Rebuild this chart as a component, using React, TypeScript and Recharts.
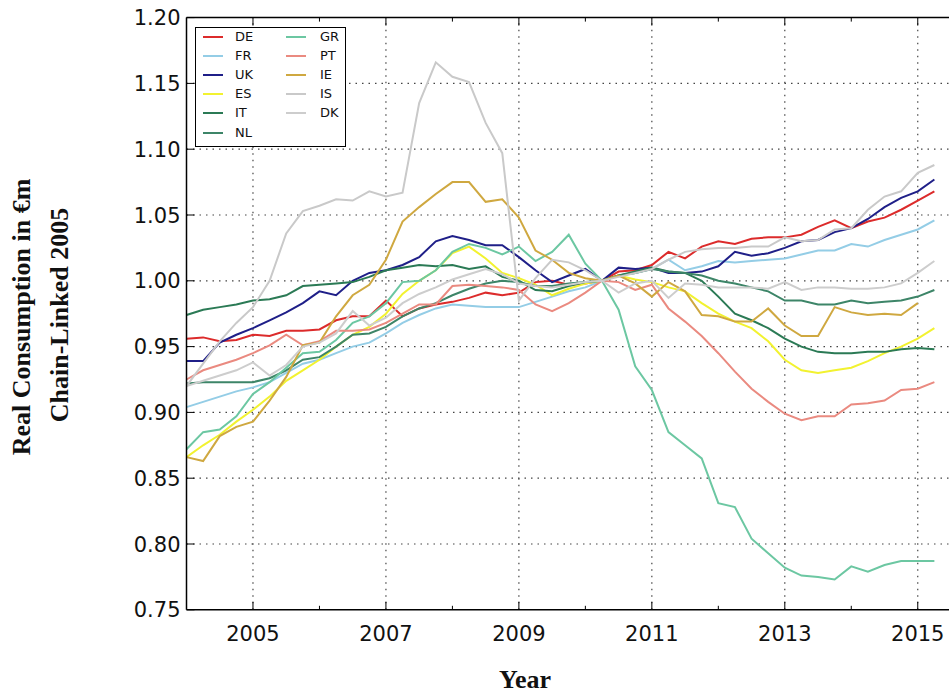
import React from 'react';
import { LineChart, Line, XAxis, YAxis, ReferenceLine, Legend } from 'recharts';

const QUARTERS = [
  '2004Q1','2004Q2','2004Q3','2004Q4','2005Q1','2005Q2','2005Q3','2005Q4',
  '2006Q1','2006Q2','2006Q3','2006Q4','2007Q1','2007Q2','2007Q3','2007Q4',
  '2008Q1','2008Q2','2008Q3','2008Q4','2009Q1','2009Q2','2009Q3','2009Q4',
  '2010Q1','2010Q2','2010Q3','2010Q4','2011Q1','2011Q2','2011Q3','2011Q4',
  '2012Q1','2012Q2','2012Q3','2012Q4','2013Q1','2013Q2','2013Q3','2013Q4',
  '2014Q1','2014Q2','2014Q3','2014Q4','2015Q1','2015Q2',
];

const DE = [0.956,0.957,0.954,0.955,0.959,0.958,0.962,0.962,0.963,0.970,0.973,0.973,0.985,0.973,0.979,0.982,0.984,0.987,0.991,0.989,0.991,0.999,1.000,0.997,0.998,1.000,1.007,1.008,1.012,1.022,1.017,1.026,1.030,1.028,1.032,1.033,1.033,1.035,1.041,1.046,1.040,1.045,1.048,1.054,1.061,1.068];
const FR = [0.904,0.908,0.912,0.916,0.919,0.923,0.930,0.937,0.940,0.945,0.950,0.953,0.960,0.968,0.974,0.979,0.982,0.981,0.980,0.980,0.980,0.984,0.988,0.992,0.995,1.000,1.004,1.006,1.009,1.016,1.008,1.011,1.015,1.014,1.015,1.016,1.017,1.020,1.023,1.023,1.028,1.026,1.031,1.035,1.039,1.046];
const UK = [0.939,0.939,0.953,0.959,0.964,0.970,0.976,0.983,0.992,0.989,1.000,1.006,1.008,1.012,1.018,1.030,1.034,1.031,1.027,1.027,1.018,1.008,0.999,1.004,1.009,1.000,1.010,1.009,1.010,1.006,1.006,1.007,1.011,1.022,1.019,1.021,1.025,1.030,1.031,1.037,1.040,1.047,1.056,1.063,1.068,1.077];
const ES = [0.866,0.875,0.883,0.893,0.902,0.912,0.924,0.932,0.940,0.950,0.959,0.965,0.975,0.990,1.000,1.008,1.021,1.026,1.017,1.006,1.002,0.997,0.989,0.994,0.998,1.000,1.004,1.001,0.999,0.995,0.992,0.983,0.975,0.969,0.964,0.954,0.940,0.932,0.930,0.932,0.934,0.939,0.945,0.950,0.956,0.964];
const IT = [0.974,0.978,0.980,0.982,0.985,0.986,0.989,0.996,0.997,0.998,0.999,1.003,1.008,1.010,1.012,1.011,1.012,1.009,1.011,1.003,1.000,0.993,0.992,0.996,0.999,1.000,1.004,1.007,1.010,1.007,1.006,1.000,0.988,0.975,0.970,0.964,0.956,0.950,0.946,0.945,0.945,0.946,0.946,0.948,0.949,0.948];
const NL = [0.922,0.923,0.923,0.923,0.923,0.926,0.932,0.940,0.942,0.950,0.959,0.960,0.965,0.973,0.979,0.983,0.989,0.994,0.998,1.000,0.999,0.996,0.996,0.998,0.999,1.000,1.004,1.006,1.009,1.007,1.006,1.004,1.000,0.998,0.995,0.992,0.985,0.985,0.982,0.982,0.985,0.983,0.984,0.985,0.988,0.993];
const GR = [0.872,0.885,0.887,0.897,0.914,0.923,0.934,0.945,0.946,0.955,0.968,0.973,0.983,0.999,1.000,1.008,1.022,1.028,1.025,1.020,1.026,1.015,1.022,1.035,1.013,1.000,0.978,0.935,0.917,0.885,0.875,0.865,0.831,0.828,0.804,0.793,0.782,0.776,0.775,0.773,0.783,0.779,0.784,0.787,0.787,0.787];
const PT = [0.925,0.932,0.936,0.940,0.945,0.951,0.959,0.951,0.954,0.962,0.962,0.963,0.968,0.975,0.982,0.982,0.996,0.997,0.996,0.995,0.993,0.982,0.977,0.983,0.991,1.000,0.999,0.993,0.997,0.979,0.969,0.958,0.945,0.931,0.918,0.908,0.899,0.894,0.897,0.897,0.906,0.907,0.909,0.917,0.918,0.923];
const IE = [0.866,0.863,0.882,0.889,0.893,0.909,0.927,0.951,0.953,0.973,0.989,0.997,1.016,1.045,1.056,1.066,1.075,1.075,1.060,1.062,1.048,1.023,1.016,1.006,1.002,1.000,1.004,0.998,0.988,0.999,0.992,0.974,0.973,0.969,0.969,0.979,0.966,0.958,0.958,0.980,0.976,0.974,0.975,0.974,0.983,null];
const IS = [0.920,0.937,0.954,0.968,0.980,1.000,1.036,1.053,1.057,1.062,1.061,1.068,1.064,1.067,1.135,1.166,1.155,1.151,1.120,1.097,0.985,1.002,1.016,1.014,1.008,1.000,1.003,1.006,1.009,1.016,1.022,1.024,1.025,1.025,1.026,1.026,1.033,1.030,1.031,1.039,1.040,1.054,1.064,1.068,1.082,1.088];
const DK = [0.920,0.924,0.928,0.932,0.938,0.928,0.936,0.950,0.953,0.960,0.977,0.966,0.972,0.983,0.990,0.995,1.001,1.005,1.009,1.005,0.998,0.996,0.995,0.997,0.999,1.000,0.991,0.998,1.000,0.987,0.998,0.997,0.995,0.995,0.995,0.994,0.999,0.993,0.995,0.995,0.994,0.994,0.995,0.998,1.006,1.015];

const SERIES = [
  { key: 'DE', values: DE, color: '#dc2b2b' },
  { key: 'FR', values: FR, color: '#94cde6' },
  { key: 'UK', values: UK, color: '#1f1f88' },
  { key: 'ES', values: ES, color: '#f2f230' },
  { key: 'IT', values: IT, color: '#2b7a55' },
  { key: 'NL', values: NL, color: '#3d8568' },
  { key: 'GR', values: GR, color: '#6cc7a2' },
  { key: 'PT', values: PT, color: '#ea8a80' },
  { key: 'IE', values: IE, color: '#cfa840' },
  { key: 'IS', values: IS, color: '#c9c9c9' },
  { key: 'DK', values: DK, color: '#cdcdcd' },
];

const MAJOR_YEARS = [2005, 2007, 2009, 2011, 2013, 2015];
const ALL_YEARS = [2005, 2006, 2007, 2008, 2009, 2010, 2011, 2012, 2013, 2014, 2015];
const Y_TICKS = [0.75, 0.8, 0.85, 0.9, 0.95, 1.0, 1.05, 1.1, 1.15, 1.2];
const Y_GRID = [0.8, 0.85, 0.9, 0.95, 1.0, 1.05, 1.1, 1.15];
const X_DOMAIN = [2004, 2015.47];

const data = QUARTERS.map((q, i) => {
  const row: Record<string, number | null> = {
    t: Number(q.slice(0, 4)) + (Number(q.slice(5)) - 1) / 4,
  };
  SERIES.forEach((s) => {
    row[s.key] = s.values[i];
  });
  return row;
});

const TICK_FONT = "'DejaVu Sans', sans-serif";
const TITLE_FONT = "'Liberation Serif', 'Times New Roman', serif";

const BottomTick = (props: any) => {
  const { x, y, payload } = props;
  const major = MAJOR_YEARS.includes(payload.value);
  return (
    <g>
      <line x1={x} x2={x} y1={y} y2={y - (major ? 8 : 4)} stroke="#000" strokeWidth={1} />
      {major && (
        <text x={x} y={y + 31} textAnchor="middle" fontFamily={TICK_FONT} fontSize={21} fill="#111">
          {payload.value}
        </text>
      )}
    </g>
  );
};

const TopTick = (props: any) => {
  const { x, y, payload } = props;
  const major = MAJOR_YEARS.includes(payload.value);
  return <line x1={x} x2={x} y1={y} y2={y + (major ? 8 : 4)} stroke="#000" strokeWidth={1} />;
};

const LeftTick = (props: any) => {
  const { x, y, payload } = props;
  return (
    <g>
      <line x1={x} x2={x + 8} y1={y} y2={y} stroke="#000" strokeWidth={1} />
      <text x={x - 6} y={y + 7.5} textAnchor="end" fontFamily={TICK_FONT} fontSize={21} fill="#111">
        {Number(payload.value).toFixed(2)}
      </text>
    </g>
  );
};

const LegendBox = () => {
  const col1 = SERIES.slice(0, 6);
  const col2 = SERIES.slice(6);
  const entry = (s: any, i: number, lineLeft: number, textLeft: number) => (
    <div key={s.key} style={{ position: 'absolute', left: 0, top: 9 + i * 19.2, width: '100%' }}>
      <div
        style={{
          position: 'absolute',
          left: lineLeft,
          top: -1,
          width: 20,
          height: 2,
          background: s.color,
        }}
      />
      <div
        style={{
          position: 'absolute',
          left: textLeft,
          top: -8,
          fontFamily: TICK_FONT,
          fontSize: 13,
          lineHeight: '16px',
          color: '#111',
        }}
      >
        {s.key}
      </div>
    </div>
  );
  return (
    <div
      style={{
        position: 'relative',
        width: 151,
        height: 120,
        boxSizing: 'border-box',
        border: '1.5px solid #000',
        background: '#fff',
      }}
    >
      {col1.map((s, i) => entry(s, i, 7, 39))}
      {col2.map((s, i) => entry(s, i, 90, 124))}
    </div>
  );
};

const titleStyle: React.CSSProperties = {
  position: 'absolute',
  whiteSpace: 'nowrap',
  fontFamily: TITLE_FONT,
  fontWeight: 'bold',
  fontSize: 26,
  color: '#111',
};

export default function App() {
  return (
    <div style={{ position: 'absolute', left: 0, top: 0, width: 949, height: 693, background: '#fff' }}>
      <LineChart
        width={949}
        height={693}
        data={data}
        margin={{ top: 16.6, right: 0, left: 86.5, bottom: 43.2 }}
      >
        <XAxis
          dataKey="t"
          type="number"
          domain={X_DOMAIN}
          allowDataOverflow
          ticks={ALL_YEARS}
          interval={0}
          tick={<BottomTick />}
          tickLine={false}
          tickSize={0}
          tickMargin={0}
          height={40}
          axisLine={{ stroke: '#000', strokeWidth: 1.5 }}
        />
        <XAxis
          xAxisId="top"
          orientation="top"
          dataKey="t"
          type="number"
          domain={X_DOMAIN}
          allowDataOverflow
          ticks={ALL_YEARS}
          interval={0}
          tick={<TopTick />}
          tickLine={false}
          tickSize={0}
          tickMargin={0}
          height={1}
          axisLine={{ stroke: '#000', strokeWidth: 1.5 }}
        />
        <YAxis
          type="number"
          domain={[0.75, 1.2]}
          ticks={Y_TICKS}
          interval={0}
          width={100}
          tick={<LeftTick />}
          tickLine={false}
          tickSize={0}
          tickMargin={0}
          axisLine={{ stroke: '#000', strokeWidth: 1.5 }}
        />
        {MAJOR_YEARS.map((yr) => (
          <ReferenceLine key={'gx' + yr} x={yr} stroke="#444" strokeWidth={1.2} strokeDasharray="1.5 5" />
        ))}
        {Y_GRID.map((v) => (
          <ReferenceLine key={'gy' + v} y={v} stroke="#444" strokeWidth={1.2} strokeDasharray="1.5 5" />
        ))}
        {SERIES.map((s) => (
          <Line
            key={s.key}
            type="linear"
            dataKey={s.key}
            stroke={s.color}
            strokeWidth={2}
            dot={false}
            activeDot={false}
            isAnimationActive={false}
          />
        ))}
        <Legend
          layout="vertical"
          align="center"
          verticalAlign="middle"
          content={<LegendBox />}
          wrapperStyle={{ position: 'absolute', left: 195, top: 26.5, width: 151, height: 120 }}
        />
      </LineChart>
      <div style={{ ...titleStyle, left: 22, top: 317, transform: 'translate(-50%, -50%) rotate(-90deg)' }}>
        Real Consumption in €m
      </div>
      <div style={{ ...titleStyle, left: 60, top: 315, transform: 'translate(-50%, -50%) rotate(-90deg)' }}>
        Chain-Linked 2005
      </div>
      <div style={{ ...titleStyle, left: 525, top: 680, transform: 'translate(-50%, -50%)' }}>
        Year
      </div>
    </div>
  );
}
